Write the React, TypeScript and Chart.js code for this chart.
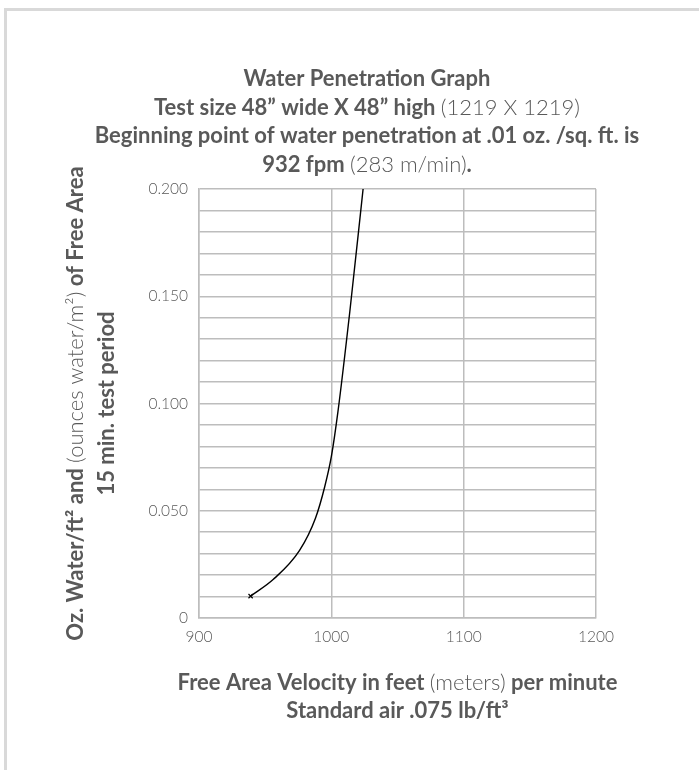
import React, { useEffect, useRef } from "react";
import { Chart, registerables } from "chart.js";

Chart.register(...registerables);

// ---- data ----
const velocity = [939, 956, 976, 988, 995, 1000, 1005, 1014, 1024];
const water = [0.0102, 0.0179, 0.0315, 0.0465, 0.0612, 0.0752, 0.0962, 0.143, 0.2];
const xTickValues = [900, 1000, 1100, 1200];
const yLabelValues = [0, 0.05, 0.1, 0.15, 0.2];

type Seg = { t: string; b: boolean };
const titleLines: Seg[][] = [
  [{ t: "Water Penetration Graph", b: true }],
  [
    { t: "Test size 48\u201D wide X 48\u201D high ", b: true },
    { t: "(1219 X 1219)", b: false },
  ],
  [{ t: "Beginning point of water penetration at .01 oz. /sq. ft. is", b: true }],
  [
    { t: "932 fpm ", b: true },
    { t: "(283 m/min)", b: false },
    { t: ".", b: true },
  ],
];
const yTitleLines: Seg[][] = [
  [
    { t: "Oz. Water/ft\u00B2 and ", b: true },
    { t: "(ounces water/m\u00B2)", b: false },
    { t: " of Free Area", b: true },
  ],
  [{ t: "15 min. test period", b: true }],
];
const xTitleLines: Seg[][] = [
  [
    { t: "Free Area Velocity in feet ", b: true },
    { t: "(meters)", b: false },
    { t: " per minute", b: true },
  ],
  [{ t: "Standard air .075 lb/ft\u00B3", b: true }],
];

const TEXT = "#595959";
const FAMILY = "Lato, 'Open Sans', sans-serif";
const fontOf = (bold: boolean, size: number) =>
  `${bold ? 700 : 300} ${size}px ${FAMILY}`;

function lineWidth(ctx: CanvasRenderingContext2D, segs: Seg[], size: number) {
  return segs.reduce((acc, s) => {
    ctx.font = fontOf(s.b, size);
    return acc + ctx.measureText(s.t).width;
  }, 0);
}

function drawRich(
  ctx: CanvasRenderingContext2D,
  lines: Seg[][],
  cx: number,
  y0: number,
  lh: number,
  size: number
) {
  ctx.fillStyle = TEXT;
  ctx.textBaseline = "alphabetic";
  ctx.textAlign = "left";
  lines.forEach((segs, i) => {
    const total = lineWidth(ctx, segs, size);
    let x = cx - total / 2;
    segs.forEach((s) => {
      ctx.font = fontOf(s.b, size);
      ctx.fillText(s.t, x, y0 + i * lh);
      x += ctx.measureText(s.t).width;
    });
  });
}

// the widest title line spans about 544 px in the reference
const WIDEST_TITLE_PX = 544;

const textPlugin = {
  id: "richText",
  afterDraw(chart: any) {
    const ctx: CanvasRenderingContext2D = chart.ctx;
    const area = chart.chartArea;
    ctx.save();
    const w100 = lineWidth(ctx, titleLines[2], 100);
    const size = Math.round((WIDEST_TITLE_PX / w100) * 100 * 2) / 2;
    drawRich(ctx, titleLines, 367, 86, 28.7, size);
    const plotMidX = (area.left + area.right) / 2;
    drawRich(ctx, xTitleLines, plotMidX, 690, 27.5, size);
    ctx.translate(83, (area.top + area.bottom) / 2);
    ctx.rotate(-Math.PI / 2);
    drawRich(ctx, yTitleLines, 0, 0, 31, size);
    ctx.restore();
  },
};

export default function App() {
  const ref = useRef<HTMLCanvasElement | null>(null);

  useEffect(() => {
    document.body.style.margin = "0";
    const canvas = ref.current!;
    const chart = new Chart(canvas, {
      type: "scatter",
      data: {
        datasets: [
          {
            data: velocity.map((v, i) => ({ x: v, y: water[i] })),
            showLine: true,
            borderColor: "#000000",
            borderWidth: 1.4,
            cubicInterpolationMode: "monotone",
            pointStyle: "crossRot",
            pointRadius: (c: any) => (c.dataIndex === 0 ? 3 : 0),
            pointBorderColor: "#000000",
            pointBorderWidth: 1.2,
            pointHoverRadius: 0,
          },
        ],
      },
      options: {
        responsive: false,
        animation: false,
        layout: { padding: { left: 0, top: 189, right: 103, bottom: 0 } },
        plugins: {
          legend: { display: false },
          tooltip: { enabled: false },
          title: { display: false },
        },
        scales: {
          x: {
            type: "linear",
            min: 900,
            max: 1200,
            afterBuildTicks: (s: any) => {
              s.ticks = xTickValues.map((v) => ({ value: v }));
            },
            afterFit: (s: any) => {
              s.height = 152;
              s.paddingLeft = 0;
              s.paddingRight = 0;
            },
            grid: { color: "#bdbdbd", lineWidth: 1.5, drawTicks: false },
            border: { color: "#bdbdbd", width: 1.5 },
            ticks: {
              padding: 10,
              color: TEXT,
              font: { family: FAMILY, size: 15.5, weight: 300 as any },
              callback: (v: any) => String(v),
            },
          },
          y: {
            type: "linear",
            min: 0,
            max: 0.2,
            ticks: {
              stepSize: 0.01,
              autoSkip: false,
              padding: 11,
              color: TEXT,
              font: { family: FAMILY, size: 15.5, weight: 300 as any },
              callback: (v: any) => {
                const n = Number(v);
                const hit = yLabelValues.find((t) => Math.abs(t - n) < 1e-6);
                if (hit === undefined) return "";
                return hit === 0 ? "0" : hit.toFixed(3);
              },
            },
            afterFit: (s: any) => {
              s.width = 199;
              s.paddingTop = 0;
              s.paddingBottom = 0;
            },
            grid: { color: "#bdbdbd", lineWidth: 1.5, drawTicks: false },
            border: { color: "#bdbdbd", width: 1.5 },
          },
        },
      },
      plugins: [textPlugin],
    });
    return () => chart.destroy();
  }, []);

  return (
    <div
      style={{
        position: "fixed",
        left: 0,
        top: 0,
        width: 699,
        height: 770,
        background: "#ffffff",
        overflow: "hidden",
      }}
    >
      <div
        style={{
          position: "absolute",
          left: 4,
          top: 8,
          right: -10,
          bottom: -10,
          borderLeft: "3px solid #d9d9d9",
          borderTop: "3px solid #d9d9d9",
        }}
      />
      <canvas
        ref={ref}
        width={699}
        height={770}
        style={{ position: "absolute", left: 0, top: 0, width: 699, height: 770 }}
      />
    </div>
  );
}
